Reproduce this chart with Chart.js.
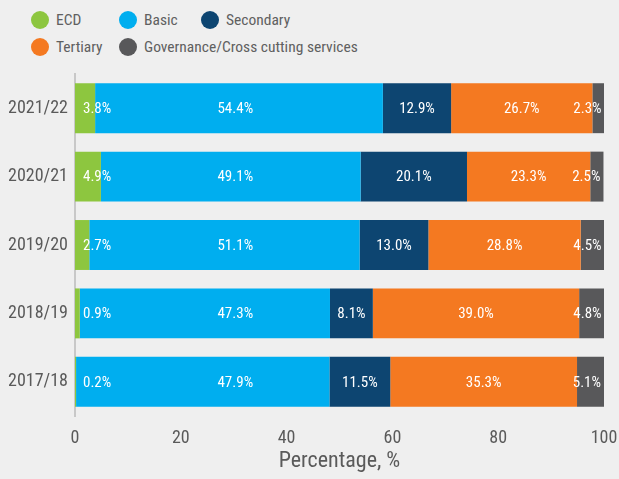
<!DOCTYPE html>
<html>
<head>
<meta charset="utf-8">
<script src="https://cdn.jsdelivr.net/npm/chart.js@4.4.1/dist/chart.umd.min.js"></script>
<style>
  html, body { margin: 0; padding: 0; background: #efefef; }
  #wrap { position: relative; width: 619px; height: 479px; }
  #legend {
    position: absolute; left: 31px; top: 11px;
    display: grid; grid-template-columns: 88px 82px auto; row-gap: 9px;
    font-family: "Roboto Condensed", "Liberation Sans Narrow", "DejaVu Sans Condensed", Roboto, sans-serif;
    font-size: 15.5px; color: #606060;
  }
  .item { display: flex; align-items: center; white-space: nowrap; }
  .dot { width: 18px; height: 18px; border-radius: 50%; margin-right: 7px; }
  canvas { position: absolute; left: 0; top: 0; }
</style>
</head>
<body>
<div id="wrap">
  <div id="legend"></div>
  <canvas id="chart" width="619" height="479"></canvas>
</div>
<script>
const FONT = '"Roboto Condensed", "Liberation Sans Narrow", "DejaVu Sans Condensed", Roboto, sans-serif';

const years = ['2021/22', '2020/21', '2019/20', '2018/19', '2017/18'];
const ecd = [3.8, 4.9, 2.7, 0.9, 0.2];
const basic = [54.4, 49.1, 51.1, 47.3, 47.9];
const secondary = [12.9, 20.1, 13.0, 8.1, 11.5];
const tertiary = [26.7, 23.3, 28.8, 39.0, 35.3];
const governance = [2.3, 2.5, 4.5, 4.8, 5.1];
const xTicks = [0, 20, 40, 60, 80, 100];

const series = [
  { label: 'ECD', data: ecd, color: '#8dc63f' },
  { label: 'Basic', data: basic, color: '#00aeef' },
  { label: 'Secondary', data: secondary, color: '#0d4571' },
  { label: 'Tertiary', data: tertiary, color: '#f47921' },
  { label: 'Governance/Cross cutting services', data: governance, color: '#58585a' }
];

// html legend, two rows with aligned columns like the original
const legendEl = document.getElementById('legend');
series.forEach(s => {
  const item = document.createElement('div');
  item.className = 'item';
  item.innerHTML = `<span class="dot" style="background:${s.color}"></span>${s.label}`;
  if (s.label === 'Tertiary') item.style.gridColumn = '1';
  if (s.label.startsWith('Governance')) item.style.gridColumn = '2 / 4';
  legendEl.appendChild(item);
});

// white value labels inside the bars
const barLabels = {
  id: 'barLabels',
  afterDatasetsDraw(chart) {
    const ctx = chart.ctx;
    const xScale = chart.scales.x;
    ctx.save();
    ctx.fillStyle = '#ffffff';
    ctx.font = '15px ' + FONT;
    ctx.textBaseline = 'middle';
    chart.data.datasets.forEach((ds, i) => {
      chart.getDatasetMeta(i).data.forEach((bar, j) => {
        const text = ds.data[j].toFixed(1) + '%';
        let x;
        if (i === 0) {
          ctx.textAlign = 'left';
          x = bar.base + 8;
        } else if (i === 1) {
          ctx.textAlign = 'center';
          x = xScale.getPixelForValue(30.3);
        } else if (i === 4) {
          ctx.textAlign = 'right';
          x = bar.x - 3;
        } else {
          ctx.textAlign = 'center';
          x = (bar.base + bar.x) / 2;
        }
        ctx.fillText(text, x, bar.y + 1);
      });
    });
    ctx.restore();
  }
};

new Chart(document.getElementById('chart'), {
  type: 'bar',
  data: {
    labels: years,
    datasets: series.map(s => ({
      label: s.label,
      data: s.data,
      backgroundColor: s.color,
      borderWidth: 0,
      categoryPercentage: 1,
      barPercentage: 0.73
    }))
  },
  options: {
    indexAxis: 'y',
    responsive: false,
    animation: false,
    layout: { padding: { top: 74, right: 15, left: 0, bottom: 0 } },
    plugins: {
      legend: { display: false },
      tooltip: { enabled: false }
    },
    scales: {
      x: {
        stacked: true,
        min: 0,
        max: 100,
        afterBuildTicks(scale) { scale.ticks = xTicks.map(v => ({ value: v })); },
        afterFit(scale) {
          scale.height = 63;
          scale.paddingLeft = 0;
          scale.paddingRight = 0;
        },
        grid: { display: false, drawTicks: false },
        border: { display: false },
        ticks: { color: '#5a5a5a', font: { family: FONT, size: 18 }, padding: 12 },
        title: {
          display: true,
          text: 'Percentage, %',
          color: '#5a5a5a',
          font: { family: FONT, size: 22 },
          padding: { top: 8 }
        }
      },
      y: {
        stacked: true,
        afterFit(scale) { scale.width = 75; },
        grid: { display: false, drawTicks: false },
        border: { display: true, color: '#c8c8c8', width: 2 },
        ticks: { color: '#5a5a5a', font: { family: FONT, size: 18 }, padding: 7 }
      }
    }
  },
  plugins: [barLabels]
});
</script>
</body>
</html>
